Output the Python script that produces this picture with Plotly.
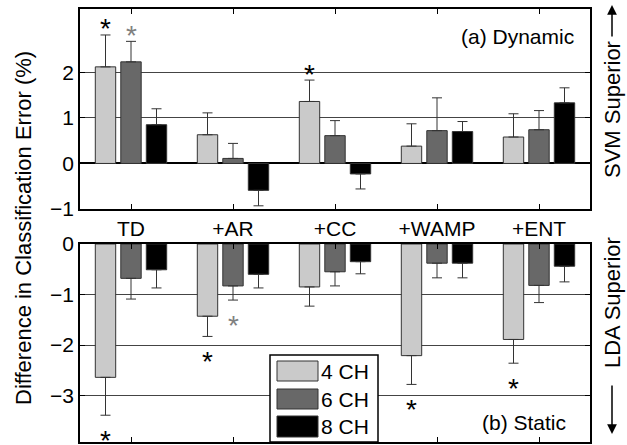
import plotly.graph_objects as go
from plotly.subplots import make_subplots

# 数据
categories = ['TD', '+AR', '+CC', '+WAMP', '+ENT']
channels = ['4 CH', '6 CH', '8 CH']
colors = ['#cacaca', '#686868', '#000000']

dyn_4ch = [2.12, 0.63, 1.36, 0.38, 0.58]
dyn_6ch = [2.23, 0.11, 0.61, 0.72, 0.74]
dyn_8ch = [0.85, -0.59, -0.23, 0.70, 1.33]
dyn_err_4ch = [0.70, 0.48, 0.47, 0.49, 0.51]
dyn_err_6ch = [0.45, 0.33, 0.33, 0.72, 0.42]
dyn_err_8ch = [0.35, 0.34, 0.33, 0.22, 0.33]

sta_4ch = [-2.64, -1.43, -0.85, -2.21, -1.89]
sta_6ch = [-0.68, -0.83, -0.55, -0.38, -0.82]
sta_8ch = [-0.51, -0.60, -0.35, -0.38, -0.44]
sta_err_4ch = [0.75, 0.40, 0.38, 0.57, 0.47]
sta_err_6ch = [0.41, 0.28, 0.28, 0.29, 0.34]
sta_err_8ch = [0.36, 0.27, 0.24, 0.29, 0.31]

# 显著性标记: (类别, 通道序号, 颜色)
dyn_stars = [('TD', 0, 'black'), ('TD', 1, 'gray'), ('+CC', 0, 'black')]
sta_stars = [('TD', 0, 'black'), ('+AR', 0, 'black'), ('+AR', 1, 'gray'),
             ('+WAMP', 0, 'black'), ('+ENT', 0, 'black')]

FONT = 'Liberation Sans, Arial, sans-serif'
W, H = 627, 445
ML, MR, MT, MB = 80, 37, 9, 3
BARGAP = 0.25
x_pos = list(range(1, len(categories) + 1))


def px(xp, yp):
    """像素坐标转换为 paper 坐标"""
    return (xp - ML) / (W - ML - MR), (H - MB - yp) / (H - MT - MB)


def split_err(vals, errs):
    plus = [e if v >= 0 else 0 for v, e in zip(vals, errs)]
    minus = [e if v < 0 else 0 for v, e in zip(vals, errs)]
    return plus, minus


fig = make_subplots(rows=2, cols=1, vertical_spacing=0.08,
                    row_heights=[0.5, 0.5])

panels = [
    (1, [dyn_4ch, dyn_6ch, dyn_8ch], [dyn_err_4ch, dyn_err_6ch, dyn_err_8ch]),
    (2, [sta_4ch, sta_6ch, sta_8ch], [sta_err_4ch, sta_err_6ch, sta_err_8ch]),
]
for row, series, errs in panels:
    for j, (vals, err) in enumerate(zip(series, errs)):
        plus, minus = split_err(vals, err)
        fig.add_trace(go.Bar(
            x=x_pos, y=vals, name=channels[j], showlegend=False,
            marker=dict(color=colors[j], line=dict(color='#333333', width=1)),
            error_y=dict(type='data', symmetric=False, array=plus, arrayminus=minus,
                         color='#333333', thickness=1, width=5),
        ), row=row, col=1)

# 显著性星号
slot = (1 - BARGAP) / 3
for row, stars, series, errs, shift in [
        (1, dyn_stars, [dyn_4ch, dyn_6ch, dyn_8ch], [dyn_err_4ch, dyn_err_6ch, dyn_err_8ch], 6),
        (2, sta_stars, [sta_4ch, sta_6ch, sta_8ch], [sta_err_4ch, sta_err_6ch, sta_err_8ch], -25)]:
    for cat, j, c in stars:
        i = categories.index(cat)
        v = series[j][i]
        end = v + errs[j][i] if v >= 0 else v - errs[j][i]
        fig.add_annotation(
            x=x_pos[i] + (j - 1) * slot, y=end, text='*', showarrow=False,
            yshift=shift, font=dict(size=28, color='black' if c == 'black' else '#808080', family=FONT),
            xref='x' if row == 1 else 'x2', yref='y' if row == 1 else 'y2')

axis_common = dict(showline=True, linecolor='black', linewidth=1.5, mirror='allticks',
                   ticks='inside', ticklen=5, tickcolor='black',
                   tickfont=dict(size=21, color='black', family=FONT))
fig.update_xaxes(range=[0.5, 5.5], tickvals=x_pos, ticktext=categories,
                 showgrid=False, **axis_common)
fig.update_xaxes(showticklabels=False, row=2, col=1)
fig.update_yaxes(showgrid=True, gridcolor='#444444', gridwidth=1, **axis_common)
fig.update_yaxes(range=[-1, 3.39], tickvals=[-1, 0, 1, 2],
                 zeroline=True, zerolinecolor='black', zerolinewidth=1.5, row=1, col=1)
fig.update_yaxes(range=[-3.92, 0], tickvals=[0, -1, -2, -3], zeroline=False, row=2, col=1)

top_y0 = px(0, 209)[1]
bot_y1 = px(0, 244)[1]
fig.update_layout(yaxis=dict(domain=[top_y0, 1]), yaxis2=dict(domain=[0, bot_y1]))

# 面板标签和侧边说明
ann = []
x, y = px(576, 37)
ann.append(dict(x=x, y=y, text='(a) Dynamic', xanchor='right', font_size=21))
x, y = px(568, 422)
ann.append(dict(x=x, y=y, text='(b) Static', xanchor='right', font_size=21))
x, y = px(23, 228)
ann.append(dict(x=x, y=y, text='Difference in Classification Error (%)', textangle=-90,
                xanchor='center', font_size=22))
x, y = px(612, 110)
ann.append(dict(x=x, y=y, text='SVM Superior', textangle=-90, xanchor='center', font_size=22))
x, y = px(612, 303)
ann.append(dict(x=x, y=y, text='LDA Superior', textangle=-90, xanchor='center', font_size=22))
for a in ann:
    fig.add_annotation(xref='paper', yref='paper', showarrow=False, yanchor='middle',
                       font=dict(family=FONT, color='black', size=a.pop('font_size')), **a)

# 箭头
for tip, tail in [((612, 5), (612, 38)), ((612, 434), (612, 384))]:
    x, y = px(*tip)
    fig.add_annotation(xref='paper', yref='paper', x=x, y=y, text='', showarrow=True,
                       ax=0, ay=tail[1] - tip[1], arrowhead=2, arrowsize=1.3,
                       arrowwidth=1.5, arrowcolor='black')

# 图例
x0, y0 = px(270, 442)
x1, y1 = px(378, 355)
fig.add_shape(type='rect', xref='paper', yref='paper', x0=x0, y0=y0, x1=x1, y1=y1,
              fillcolor='white', line=dict(color='black', width=1.5), layer='above')
for j, (top, bot) in enumerate([(361, 381), (389, 409), (416, 437)]):
    sx0, sy0 = px(277, bot)
    sx1, sy1 = px(318, top)
    fig.add_shape(type='rect', xref='paper', yref='paper', x0=sx0, y0=sy0, x1=sx1, y1=sy1,
                  fillcolor=colors[j], line=dict(color='#333333', width=1), layer='above')
    tx, ty = px(319, (top + bot) / 2)
    fig.add_annotation(xref='paper', yref='paper', x=tx, y=ty, text=channels[j],
                       xanchor='left', yanchor='middle', showarrow=False,
                       font=dict(family=FONT, color='black', size=21))

fig.update_layout(
    width=W, height=H,
    margin=dict(l=ML, r=MR, t=MT, b=MB, autoexpand=False),
    barmode='group', bargap=BARGAP, bargroupgap=0.2,
    plot_bgcolor='white', paper_bgcolor='white',
    font=dict(family=FONT, color='black'),
    showlegend=False,
)

# 去掉页面默认边距
fig.write_html('out.html', config={'displayModeBar': False},
               post_script="document.body.style.margin='0';")
